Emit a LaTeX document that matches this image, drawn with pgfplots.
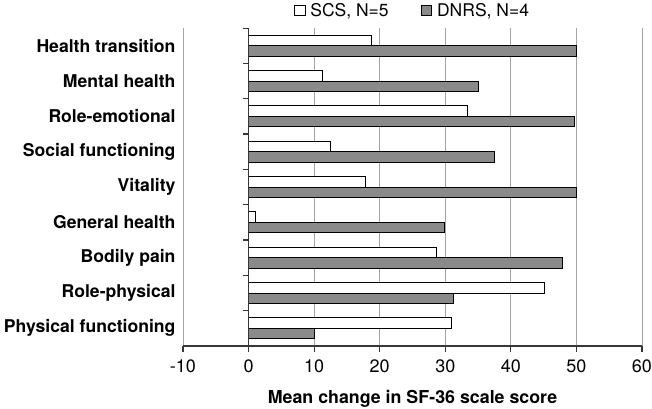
\documentclass[border=0pt]{standalone}
\usepackage{fontspec}
\setmainfont{TeX Gyre Heros}
\usepackage{pgfplots}
\usepackage{pgfplotstable}
\pgfplotsset{compat=1.18}
\definecolor{barGray}{RGB}{138,138,138}
\definecolor{gridGray}{RGB}{165,165,165}
\definecolor{axisGray}{RGB}{55,55,55}

\pgfplotstableread{
y scs dnrs
0 30.9 10.0
1 45.1 31.3
2 28.6 47.8
3 1.1 29.8
4 17.9 50.0
5 12.5 37.5
6 33.4 49.7
7 11.2 35.0
8 18.8 50.0
}\sfdata

\begin{document}
\begin{tikzpicture}
\useasboundingbox (-183pt,-62pt) rectangle (469pt,346pt);
\begin{axis}[
  at={(0pt,0pt)}, anchor=south west,
  scale only axis, width=459pt, height=318pt,
  xmin=-10, xmax=60, ymin=-0.5, ymax=8.5,
  xtick={-10,0,10,20,30,40,50,60},
  xticklabels={-10,0,10,20,30,40,50,60},
  ytick={0,1,2,3,4,5,6,7,8},
  yticklabels={Physical functioning, Role-physical, Bodily pain, General health, Vitality, Social functioning, Role-emotional, Mental health, Health transition},
  xmajorgrids, grid style={gridGray, line width=0.9pt},
  axis x line*=bottom, axis y line*=left,
  x axis line style={axisGray, line width=1.3pt, -},
  y axis line style={draw=none},
  ytick style={draw=none},
  xtick style={axisGray, line width=1.1pt},
  xtick align=outside,
  major tick length=6pt,
  xticklabel style={font=\fontsize{18}{18}\selectfont, yshift=-4pt},
  yticklabel style={font=\bfseries\fontsize{17.6}{18}\selectfont, xshift=-4pt},
  xlabel={\bfseries Mean change in SF-36 scale score},
  xlabel style={font=\fontsize{17.8}{18}\selectfont, at={(axis description cs:0.5,0)}, anchor=base, yshift=-57pt},
  legend columns=2,
  legend style={draw=none, fill=none, at={(axis description cs:0.5,1)}, anchor=south, yshift=6pt,
    font=\fontsize{17.5}{18}\selectfont,
    /tikz/every even column/.append style={column sep=30pt}},
  legend image code/.code={\draw[#1, draw=black, line width=0.8pt] (0pt,-5pt) rectangle (10.5pt,5.5pt); \path[draw=none, fill=none] (0pt,0pt) rectangle (14pt,1pt);},
]
\addplot[xbar, bar width=0.3, bar shift=0.15, fill=white, draw=black, line width=0.9pt] table[x=scs,y=y]{\sfdata};
\addlegendentry{SCS, N=5}
\addplot[xbar, bar width=0.3, bar shift=-0.15, fill=barGray, draw=black, line width=0.9pt] table[x=dnrs,y=y]{\sfdata};
\addlegendentry{DNRS, N=4}
\draw[axisGray, line width=1.3pt] (axis cs:0,-0.5) -- (axis cs:0,8.5);
\pgfplotsinvokeforeach{0.5,1.5,2.5,3.5,4.5,5.5,6.5,7.5,8.5}{
  \draw[axisGray, line width=1.1pt] (axis cs:0,#1) -- ++(-6pt,0pt);
}
\end{axis}
\end{tikzpicture}
\end{document}
